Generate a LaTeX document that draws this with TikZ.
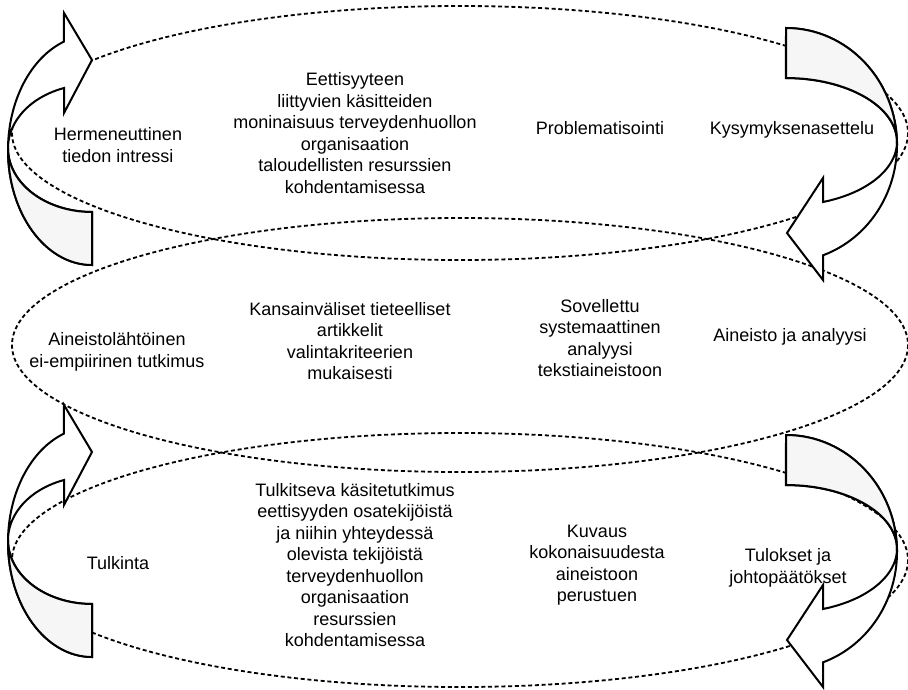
\documentclass[tikz,border=0pt]{standalone}
\usepackage{fontspec}
\setmainfont{Liberation Sans}
\tikzset{
	soikio/.style={dash pattern=on 4pt off 2.7pt, line width=1.8pt},
	nuoli/.style={draw, fill=white, line width=2pt},
	varjo/.style={fill=gray!7, draw=black, line width=2pt},
	teksti/.style={align=center, inner sep=0pt, font=\fontsize{18}{21.5}\selectfont}
}
\begin{document}
\begin{tikzpicture}[x=1pt,y=-1pt]
	\useasboundingbox (0,0) rectangle (908,689);
	% soikiot
	\draw [soikio] (460,133) ellipse [x radius=448, y radius=127];
	\draw [soikio] (460,345) ellipse [x radius=448, y radius=127];
	\draw [soikio] (460,560) ellipse [x radius=448, y radius=127];
	% vasemmat nuolet
	\foreach \dy in {0,392} {
		\begin{scope}[shift={(0,\dy)}]
			\draw [nuoli] (92,265) arc [start angle=90, end angle=250.5, x radius=84, y radius=115] -- (64,13) -- (92,60) -- (64,113) -- (64,88) arc [start angle=250.5, end angle=90, x radius=84, y radius=63.8] -- cycle;
			\filldraw [varjo] (92,265) arc [start angle=90, end angle=180, x radius=84, y radius=115] -- (8,148.2) arc [start angle=180, end angle=90, x radius=84, y radius=63.8] -- cycle;
		\end{scope}
	}
	% oikeat nuolet
	\foreach \dy in {0,407} {
		\begin{scope}[shift={(0,\dy)}]
			\draw [nuoli] (786,28) arc [start angle=-90, end angle=70.5, x radius=111, y radius=117] -- (823,280) -- (787,233) -- (823,178) -- (823,202) arc [start angle=70.5, end angle=-90, x radius=111, y radius=63.8] -- cycle;
			\filldraw [varjo] (786,28) arc [start angle=-90, end angle=0, x radius=111, y radius=117] -- (897,141.8) arc [start angle=0, end angle=-90, x radius=111, y radius=63.8] -- cycle;
		\end{scope}
	}
	% tekstit
	\node [teksti] (hermeneuttinen) at (118,145) {Hermeneuttinen\\tiedon intressi};
	\node [teksti] (eettisyys) at (355,133) {Eettisyyteen\\liittyvien käsitteiden\\moninaisuus terveydenhuollon\\organisaation\\taloudellisten resurssien\\kohdentamisessa};
	\node [teksti] (problematisointi) at (600,128) {Problematisointi};
	\node [teksti] (kysymys) at (792,130) {Kysymyksenasettelu};
	\node [teksti] (aineistolahtoinen) at (117,352) {Aineistolähtöinen\\ei-empiirinen tutkimus};
	\node [teksti] (artikkelit) at (350,341) {Kansainväliset tieteelliset\\artikkelit\\valintakriteerien\\mukaisesti};
	\node [teksti] (sovellettu) at (600,338) {Sovellettu\\systemaattinen\\analyysi\\tekstiaineistoon};
	\node [teksti] (aineisto) at (790,337) {Aineisto ja analyysi};
	\node [teksti] (tulkinta) at (118,563) {Tulkinta};
	\node [teksti] (kasitetutkimus) at (355,565) {Tulkitseva käsitetutkimus\\eettisyyden osatekijöistä\\ja niihin yhteydessä\\olevista tekijöistä\\terveydenhuollon\\organisaation\\resurssien\\kohdentamisessa};
	\node [teksti] (kuvaus) at (597,565) {Kuvaus\\kokonaisuudesta\\aineistoon\\perustuen};
	\node [teksti] (tulokset) at (788,568) {Tulokset ja\\johtopäätökset};
\end{tikzpicture}
\end{document}
